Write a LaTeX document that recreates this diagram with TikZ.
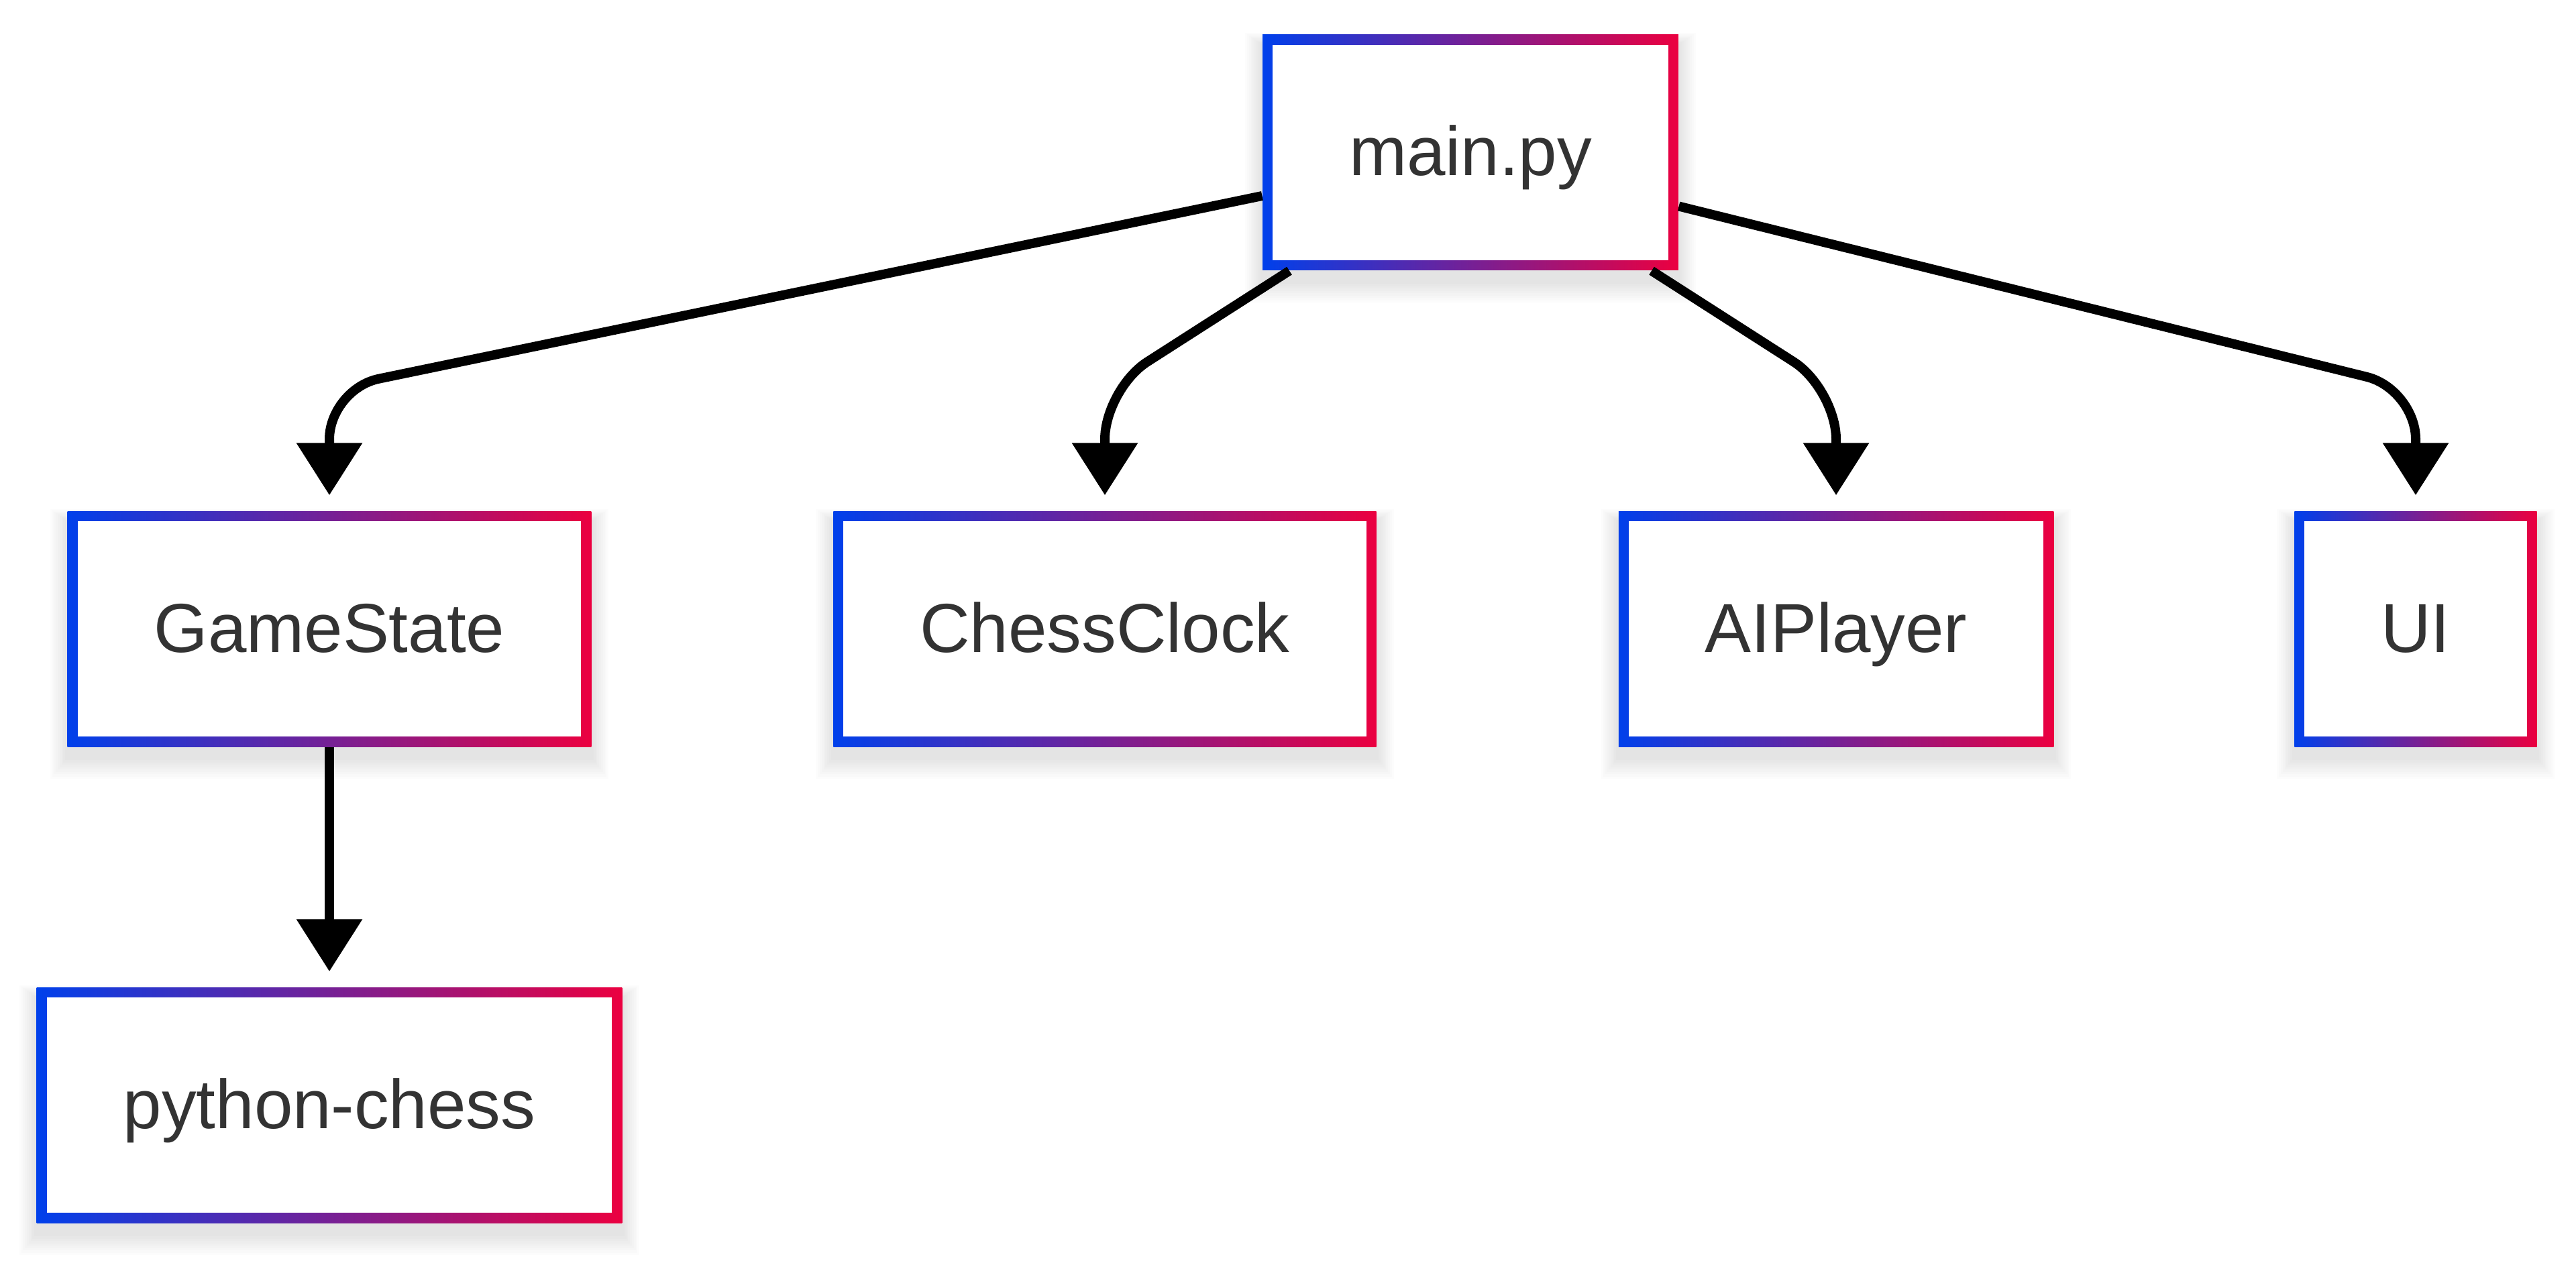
\documentclass[tikz,border=0pt]{standalone}
\usepackage{fontspec}
\setmainfont{Liberation Sans}
\usepackage{tikz}
\usetikzlibrary{arrows.meta, backgrounds, calc}
\definecolor{FlowBlue}{HTML}{0040EB}
\definecolor{FlowRed}{HTML}{EB0040}
\definecolor{FlowText}{HTML}{333333}
\tikzset{
    module/.style={rectangle, left color=FlowBlue, right color=FlowRed,
        minimum height=3.51cm, inner xsep=1.29cm, text=FlowText,
        font=\fontsize{29.4}{35}\selectfont, text height=0.93cm, text depth=0.24cm,
        path picture={\fill[white]
            ([shift={(0.15cm,-0.15cm)}]path picture bounding box.north west) rectangle
            ([shift={(-0.15cm,0.15cm)}]path picture bounding box.south east);}},
    dep/.style={line width=0.14cm, -{Triangle[width=0.95cm, length=0.78cm]},
        shorten >=0.23cm, rounded corners=0.75cm}
}

\begin{document}
\begin{tikzpicture}
                \useasboundingbox (0,0) rectangle (38.4,-18.8);
                \node[module] (main) at (21.92,-2.275) {main.py};
                \node[module] (gs) at (4.91,-9.375) {GameState};
                \node[module] (clock) at (16.47,-9.375) {ChessClock};
                \node[module] (ai) at (27.37,-9.375) {AIPlayer};
                \node[module] (ui) at (36.01,-9.375) {UI};
                \node[module] (pychess) at (4.91,-16.475) {python-chess};
                \coordinate (bend) at (0,-5.8);
                \begin{scope}[on background layer]
                    \foreach \n in {main, gs, clock, ai, ui, pychess}
                        \foreach \k in {1,...,9}
                            \fill[black, opacity=0.011]
                                ([xshift=-\k*0.028cm, yshift=-0.16cm+\k*0.02cm]\n.north west) rectangle
                                ([xshift=\k*0.028cm, yshift=-0.16cm-\k*0.035cm]\n.south east);
                \end{scope}
                \draw[dep] ([yshift=-0.645cm]main.west) -- (gs.north |- bend) -- (gs.north);
                \draw[dep] ([xshift=-2.7cm]main.south) -- (clock.north |- bend) -- (clock.north);
                \draw[dep] ([xshift=2.7cm]main.south) -- (ai.north |- bend) -- (ai.north);
                \draw[dep] ([yshift=-0.8cm]main.east) -- (ui.north |- bend) -- (ui.north);
                \draw[dep] (gs.south) -- (pychess.north);
            \end{tikzpicture}
\end{document}
